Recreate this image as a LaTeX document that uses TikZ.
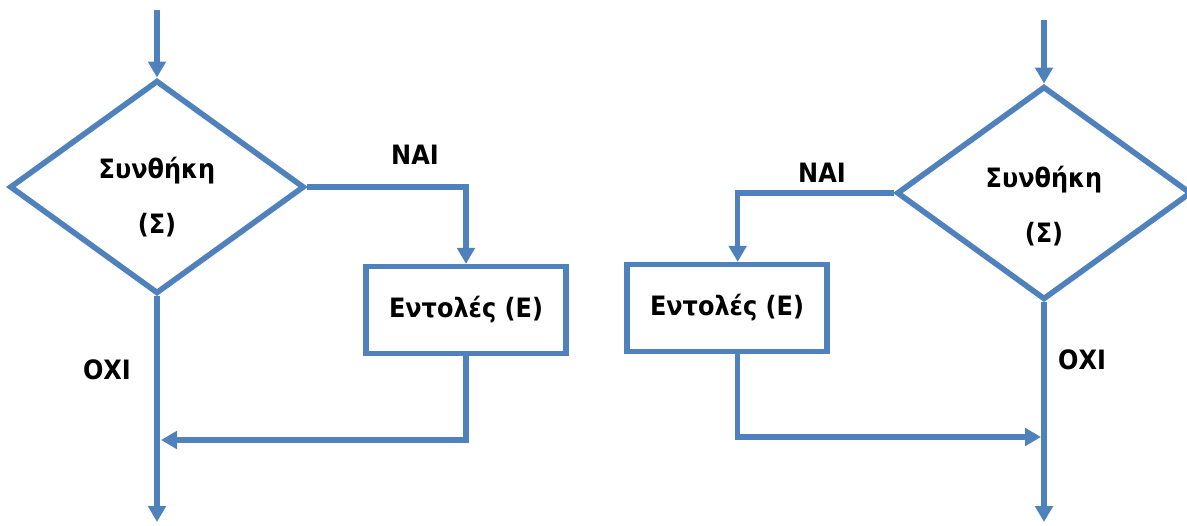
\documentclass[tikz,border=0pt]{standalone}
\usepackage{fontspec}
\setmainfont{DejaVu Sans}[FakeStretch=0.9]
\usetikzlibrary{arrows.meta,shapes.geometric}
\definecolor{flowblue}{RGB}{79,129,189}

\begin{document}
\begin{tikzpicture}[x=0.75pt,y=-0.75pt,>={Triangle[width=13pt,length=12pt]},
		flow/.style={draw=flowblue,line width=4.2pt},
		txt/.style={font=\fontsize{20}{23}\selectfont\bfseries},
		cond/.style={diamond,flow,minimum width=221pt,minimum height=160pt,inner sep=0pt},
		condtxt/.style={txt,align=center,inner sep=0pt},
		cmd/.style={rectangle,flow,txt,minimum width=150pt,minimum height=65pt,inner sep=0pt}]
		
		\useasboundingbox (0,0) rectangle (1187,525);
		
		% Left: condition before the commands
		\coordinate (start1) at (157,10);
		\node[cond] (cond1) at (157,187) {};
		\node[condtxt] (cond1txt) at (157,197) {Συνθήκη\\[18pt](Σ)};
		\node[cmd] (cmd1) at (466,310) {Εντολές (Ε)};
		\coordinate (join1) at (161,440);
		\coordinate (end1) at (157,522);
		
		\draw[flow,->] (start1) -- (cond1.north);
		\draw[flow,->] (cond1.east) -| (cmd1.north);
		\draw[flow,->] (cmd1.south) |- (join1);
		\draw[flow,->] (cond1.south) -- (end1);
		
		\node[txt] (yes1) at (415,155) {ΝΑΙ};
		\node[txt] (no1) at (107,370) {ΟΧΙ};
		
		% Right: mirrored
		\coordinate (start2) at (1044,20);
		\node[cond] (cond2) at (1044,193) {};
		\node[condtxt] (cond2txt) at (1044,206) {Συνθήκη\\[18pt](Σ)};
		\node[cmd] (cmd2) at (727,308) {Εντολές (Ε)};
		\coordinate (join2) at (1041,437);
		\coordinate (end2) at (1044,522);
		
		\draw[flow,->] (start2) -- (cond2.north);
		\draw[flow,->] (cond2.west) -| ([xshift=8pt]cmd2.north);
		\draw[flow,->] ([xshift=8pt]cmd2.south) |- (join2);
		\draw[flow,->] (cond2.south) -- (end2);
		
		\node[txt] (yes2) at (822,173) {ΝΑΙ};
		\node[txt] (no2) at (1082,360) {ΟΧΙ};
		
	\end{tikzpicture}
\end{document}
